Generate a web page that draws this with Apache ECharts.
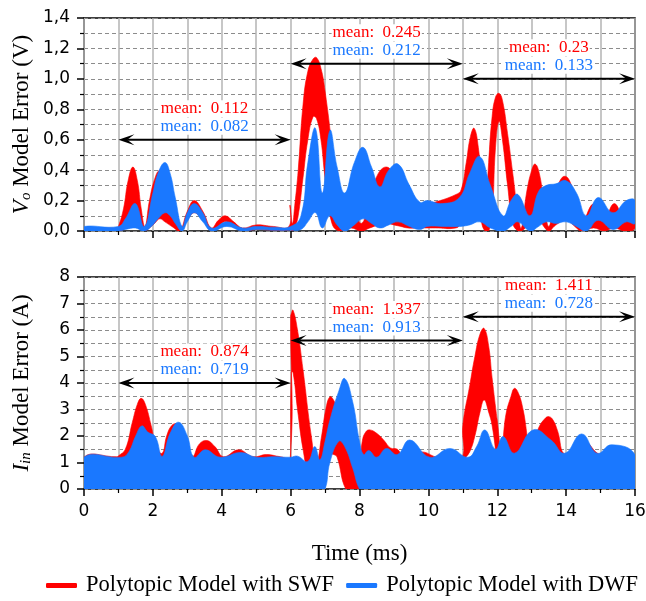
<!DOCTYPE html>
<html>
<head>
<meta charset="utf-8">
<script src="https://cdn.jsdelivr.net/npm/echarts@6/dist/echarts.min.js"></script>
<style>
  html, body { margin: 0; padding: 0; background: #fff; }
  #chart { width: 646px; height: 601px; }
</style>
</head>
<body>
<div id="chart"></div>
<script>
// Error envelopes, one row per sample: [time (ms), lower bound, upper bound]
const voSWF = [
  [0, 0, 0.02], [0.95, 0, 0.02], [1.0, 0, 0.03], [1.15, 0.01, 0.15], [1.28, 0.03, 0.33],
  [1.42, 0.05, 0.42], [1.55, 0.03, 0.33], [1.66, 0.01, 0.15], [1.77, 0, 0.03], [1.9, 0.02, 0.2],
  [2.05, 0.05, 0.34], [2.2, 0.08, 0.4], [2.35, 0.06, 0.36], [2.55, 0.03, 0.2], [2.8, 0, 0.02],
  [3.0, 0.07, 0.13], [3.2, 0.12, 0.2], [3.45, 0.07, 0.13], [3.7, 0, 0.02], [3.9, 0.03, 0.07],
  [4.1, 0.06, 0.1], [4.35, 0.03, 0.06], [4.6, 0, 0.02], [5.0, 0.01, 0.04], [5.5, 0.005, 0.03],
  [5.95, 0.005, 0.03], [5.98, 0.01, 0.17], [6.05, 0, 0.05], [6.12, 0.02, 0.17], [6.22, 0.1, 0.4],
  [6.36, 0.35, 0.83], [6.5, 0.6, 1.05], [6.65, 0.75, 1.13], [6.75, 0.74, 1.14], [6.88, 0.6, 1.07],
  [7.0, 0.35, 0.92], [7.2, 0.05, 0.55], [7.43, 0, 0.02], [7.75, 0.02, 0.2], [8.05, 0, 0.05],
  [8.3, 0.02, 0.22], [8.55, 0.04, 0.38], [8.8, 0.05, 0.42], [9.0, 0.04, 0.36], [9.2, 0.03, 0.22],
  [9.4, 0.02, 0.1], [9.7, 0.02, 0.16], [10.2, 0.02, 0.19], [10.8, 0.02, 0.24], [10.95, 0.05, 0.27],
  [11.1, 0.1, 0.45], [11.22, 0.2, 0.62], [11.33, 0.3, 0.675], [11.45, 0.2, 0.55], [11.55, 0.05, 0.3],
  [11.65, 0, 0.1], [11.75, 0, 0.45], [11.85, 0.1, 0.75], [11.95, 0.55, 0.88], [12.05, 0.72, 0.905],
  [12.15, 0.6, 0.86], [12.3, 0.3, 0.64], [12.45, 0.05, 0.38], [12.6, 0, 0.12], [12.7, 0, 0.02],
  [12.85, 0.03, 0.25], [13.0, 0.08, 0.4], [13.1, 0.1, 0.44], [13.22, 0.08, 0.38], [13.35, 0.03, 0.2],
  [13.5, 0, 0.03], [13.65, 0.03, 0.22], [13.82, 0.06, 0.33], [13.97, 0.1, 0.36], [14.12, 0.06, 0.32],
  [14.3, 0.02, 0.18], [14.45, 0, 0.05], [14.8, 0.02, 0.18], [15.1, 0, 0.08], [15.4, 0.02, 0.18],
  [15.7, 0, 0.08], [16, 0.02, 0.18]
];
const voDWF = [
  [0, 0, 0.03], [1.0, 0, 0.03], [1.2, 0.01, 0.08], [1.49, 0.02, 0.18], [1.75, 0, 0.03],
  [2.0, 0.04, 0.25], [2.15, 0.08, 0.38], [2.35, 0.12, 0.45], [2.5, 0.1, 0.38], [2.65, 0.05, 0.22],
  [2.85, 0, 0.03], [3.0, 0.06, 0.12], [3.2, 0.12, 0.18], [3.45, 0.06, 0.12], [3.7, 0, 0.02],
  [4.15, 0.03, 0.06], [4.6, 0, 0.02], [5.0, 0.01, 0.03], [5.5, 0.005, 0.025], [6.0, 0.005, 0.03],
  [6.3, 0.01, 0.1], [6.5, 0.06, 0.45], [6.72, 0.12, 0.675], [6.92, 0.02, 0.25], [7.14, 0.1, 0.66],
  [7.35, 0.04, 0.42], [7.57, 0, 0.25], [7.85, 0.04, 0.45], [8.1, 0.08, 0.55], [8.35, 0.05, 0.42],
  [8.59, 0.02, 0.29], [8.85, 0.04, 0.4], [9.12, 0.06, 0.44], [9.45, 0.03, 0.3], [9.75, 0.01, 0.19],
  [9.97, 0.03, 0.2], [10.4, 0.03, 0.18], [10.9, 0.03, 0.22], [11.2, 0.04, 0.38], [11.49, 0.06, 0.49],
  [11.8, 0.02, 0.3], [12.17, 0, 0.1], [12.4, 0.03, 0.2], [12.6, 0.06, 0.24], [12.95, 0, 0.1],
  [13.2, 0.03, 0.26], [13.43, 0.06, 0.3], [13.7, 0.05, 0.31], [14.0, 0.06, 0.33], [14.3, 0.03, 0.25],
  [14.59, 0, 0.1], [14.93, 0.07, 0.22], [15.36, 0.01, 0.12], [15.75, 0.06, 0.2], [16, 0.05, 0.2]
];
const iinSWF = [
  [0, 0, 1.2], [0.95, 0, 1.22], [1.0, 0, 1.25], [1.2, 0, 1.5], [1.4, 0, 2.5],
  [1.55, 0, 3.2], [1.66, 0, 3.42], [1.78, 0, 3.2], [1.95, 0, 2.4], [2.1, 0, 1.6],
  [2.27, 0, 1.35], [2.4, 0, 2.0], [2.55, 0, 2.4], [2.7, 0, 2.45], [2.85, 0, 2.2],
  [3.15, 0, 1.25], [3.35, 0, 1.7], [3.57, 0, 1.83], [3.8, 0, 1.6], [4.05, 0, 1.22],
  [4.49, 0, 1.48], [4.9, 0, 1.22], [5.3, 0, 1.3], [5.7, 0, 1.22], [5.99, 0, 1.2],
  [6.0, 0, 6.5], [6.015, 4.4, 6.6], [6.07, 4.4, 6.75], [6.2, 3.0, 6.0], [6.36, 1.5, 4.5],
  [6.6, 0, 2.0], [6.75, 0, 1.0], [6.9, 0.5, 2.0], [7.02, 1.0, 3.0], [7.14, 1.3, 3.48],
  [7.25, 1.3, 3.35], [7.35, 1.2, 3.0], [7.6, 0, 2.0], [7.8, 0, 1.0], [7.95, 0, 0.5],
  [8.08, 0, 1.8], [8.18, 0, 2.15], [8.3, 0, 2.23], [8.5, 0, 2.1], [8.7, 0, 1.85],
  [8.9, 0, 1.55], [9.1, 0, 1.5], [9.3, 0, 1.2], [9.8, 0, 1.4], [10.3, 0, 1.2],
  [10.6, 0, 1.4], [10.98, 0, 1.2], [11.0, 1.0, 2.4], [11.2, 1.4, 3.9], [11.35, 2.0, 5.0],
  [11.5, 2.9, 5.85], [11.62, 3.36, 6.06], [11.75, 2.9, 5.4], [11.85, 2.4, 4.2], [12.0, 1.0, 2.6],
  [12.12, 0, 1.5], [12.25, 0.6, 2.8], [12.4, 1.0, 3.5], [12.5, 1.2, 3.8], [12.62, 1.0, 3.6],
  [12.75, 0.8, 3.0], [12.98, 0, 1.5], [13.2, 0.5, 2.3], [13.38, 0.8, 2.65], [13.5, 1.0, 2.73],
  [13.62, 0.8, 2.6], [13.75, 0.6, 2.2], [13.98, 0, 1.3], [14.5, 0, 1.8], [15.0, 0, 1.3],
  [15.5, 0, 1.5], [16, 0, 1.2]
];
const iinDWF = [
  [0, 0, 1.2], [1.1, 0, 1.2], [1.3, 0, 1.4], [1.5, 0, 2.0], [1.68, 0, 2.38],
  [1.85, 0, 2.15], [2.07, 0, 1.98], [2.27, 0, 1.23], [2.5, 0, 2.1], [2.75, 0, 2.52],
  [3.0, 0, 2.0], [3.2, 0, 1.2], [3.52, 0, 1.48], [3.95, 0, 1.2], [4.55, 0, 1.38],
  [5.0, 0, 1.2], [5.5, 0, 1.22], [6.0, 0, 1.2], [6.2, 0, 1.24], [6.5, 0, 1.04],
  [6.7, 0, 1.6], [6.85, 0, 1.1], [7.0, 0, 1.8], [7.14, 1.0, 2.6], [7.4, 1.8, 3.7],
  [7.57, 1.6, 4.17], [7.8, 0.8, 3.3], [8.0, 0, 1.8], [8.12, 0, 1.3], [8.27, 0, 1.45],
  [8.5, 0, 1.2], [8.78, 0, 1.53], [9.1, 0, 1.3], [9.46, 0, 1.85], [10.04, 0, 1.2],
  [10.62, 0, 1.53], [11.15, 0, 1.2], [11.4, 0, 1.6], [11.64, 0, 2.23], [11.95, 0, 1.5],
  [12.17, 0, 1.98], [12.5, 0, 1.35], [13.04, 0, 2.23], [13.56, 0, 1.85], [13.96, 0, 1.35],
  [14.45, 0, 2.08], [14.9, 0, 1.35], [15.32, 0, 1.67], [16, 0, 1.29]
];

// Averaging windows: [start (ms), end (ms), arrow level]
const voWindows = [[1, 6, 0.6], [6, 11, 1.1], [11, 16, 1.0]];
const voMeanSWF = ['0.112', '0.245', '0.23'];
const voMeanDWF = ['0.082', '0.212', '0.133'];
const iinWindows = [[1, 6, 4], [6, 11, 5.6], [11, 16, 6.5]];
const iinMeanSWF = ['0.874', '1.337', '1.411'];
const iinMeanDWF = ['0.719', '0.913', '0.728'];

const seriesNames = ['Polytopic Model with SWF', 'Polytopic Model with DWF'];

const RED = '#ff0000';
const BLUE = '#1a78ff';
const SERIF = '"Liberation Serif", "Times New Roman", serif';
const SANS = '"DejaVu Sans", sans-serif';

// Filled band between the lower and upper envelope, drawn as one smoothed polygon
function band(name, rows, color, axisIdx, z) {
  return {
    type: 'custom',
    name: name,
    xAxisIndex: axisIdx,
    yAxisIndex: axisIdx,
    data: rows,
    clip: true,
    silent: true,
    z: z,
    itemStyle: { color: color },
    encode: { x: 0, y: [1, 2] },
    renderItem: function (params, api) {
      if (params.dataIndexInside !== 0) return null;
      const n = params.dataInsideLength;
      const upper = [], lower = [];
      for (let i = 0; i < n; i++) {
        const t = api.value(0, i);
        upper.push(api.coord([t, api.value(2, i)]));
        lower.push(api.coord([t, api.value(1, i)]));
      }
      return {
        type: 'polygon',
        shape: { points: upper.concat(lower.reverse()), smooth: 0.45 },
        style: { fill: color, stroke: color, lineWidth: 0.6 }
      };
    }
  };
}

// Double-headed arrow over each averaging window with the two mean values above it
function windows(spans, meanSWF, meanDWF, axisIdx) {
  const L = 16, W = 5.5, N = 0.55;
  return {
    type: 'custom',
    xAxisIndex: axisIdx,
    yAxisIndex: axisIdx,
    data: spans,
    silent: true,
    z: 20,
    encode: { x: [0, 1], y: 2 },
    renderItem: function (params, api) {
      const a = api.coord([api.value(0), api.value(2)]);
      const b = api.coord([api.value(1), api.value(2)]);
      const i = params.dataIndex;
      const mx = (a[0] + b[0]) / 2;
      const y = a[1];
      const label = function (txt, color, dy) {
        return {
          type: 'text',
          x: mx, y: y + dy,
          style: {
            text: txt, fill: color, font: '17px ' + SERIF,
            align: 'center', verticalAlign: 'middle',
            backgroundColor: '#fff', padding: [0, 1]
          }
        };
      };
      return {
        type: 'group',
        children: [
          { type: 'line', shape: { x1: a[0] + L * N, y1: y, x2: b[0] - L * N, y2: y },
            style: { stroke: '#000', lineWidth: 2 } },
          { type: 'polygon', shape: { points: [[a[0], y], [a[0] + L, y - W], [a[0] + L * N, y], [a[0] + L, y + W]] },
            style: { fill: '#000' } },
          { type: 'polygon', shape: { points: [[b[0], y], [b[0] - L, y - W], [b[0] - L * N, y], [b[0] - L, y + W]] },
            style: { fill: '#000' } },
          label('mean:  ' + meanSWF[i], RED, -31),
          label('mean:  ' + meanDWF[i], BLUE, -13.5)
        ]
      };
    }
  };
}

function xAxis(gridIndex, withLabels) {
  return {
    type: 'value', gridIndex: gridIndex, min: 0, max: 16, interval: 2,
    axisLine: { show: false },
    axisTick: { show: true, inside: false, length: 7, lineStyle: { color: '#000', width: 1.5 } },
    minorTick: { show: true, splitNumber: 2, length: 4, lineStyle: { color: '#000', width: 1.2 } },
    splitLine: { show: true, lineStyle: { color: '#b4b4b4', width: 1.5 } },
    minorSplitLine: { show: true, lineStyle: { color: '#b4b4b4', width: 1.5 } },
    axisLabel: { show: withLabels, margin: 14, color: '#000', fontFamily: SANS, fontSize: 17 },
    name: withLabels ? 'Time (ms)' : '',
    nameLocation: 'middle', nameGap: 53, nameMoveOverlap: false,
    nameTextStyle: { fontFamily: SERIF, fontSize: 23, color: '#000' }
  };
}

function yAxis(gridIndex, max, interval, fmt, name) {
  return {
    type: 'value', gridIndex: gridIndex, min: 0, max: max, interval: interval,
    axisLine: { show: false },
    axisTick: { show: true, inside: false, length: 7, lineStyle: { color: '#000', width: 1.5 } },
    minorTick: { show: true, splitNumber: 2, length: 4, lineStyle: { color: '#000', width: 1.2 } },
    splitLine: { show: true, lineStyle: { color: '#8c8c8c', width: 1, type: [4, 3] } },
    minorSplitLine: { show: true, lineStyle: { color: '#8c8c8c', width: 1, type: [4, 3] } },
    axisLabel: { margin: 14, color: '#000', fontFamily: SANS, fontSize: 17, formatter: fmt },
    name: name, nameLocation: 'middle', nameGap: 50, nameMoveOverlap: false,
    nameTextStyle: {
      fontFamily: SERIF, fontSize: 23, color: '#000',
      rich: {
        it: { fontFamily: SERIF, fontSize: 23, fontStyle: 'italic', color: '#000' },
        sub: { fontFamily: SERIF, fontSize: 15, fontStyle: 'italic', color: '#000', padding: [10, 0, 0, 0] }
      }
    }
  };
}

const chart = echarts.init(document.getElementById('chart'), null, { renderer: 'canvas' });
chart.setOption({
  animation: false,
  backgroundColor: '#fff',
  grid: [
    { left: 84, width: 551, top: 18, height: 213, show: true, borderColor: '#000', borderWidth: 1.5,
      backgroundColor: 'transparent', containLabel: false, outerBoundsMode: 'none' },
    { left: 84, width: 551, top: 277, height: 212, show: true, borderColor: '#000', borderWidth: 1.5,
      backgroundColor: 'transparent', containLabel: false, outerBoundsMode: 'none' }
  ],
  xAxis: [xAxis(0, false), xAxis(1, true)],
  yAxis: [
    yAxis(0, 1.4, 0.2, function (v) { return v.toFixed(1).replace('.', ','); }, '{it|V}{sub|o} Model Error (V)'),
    yAxis(1, 8, 1, function (v) { return String(v); }, '{it|I}{sub|in} Model Error (A)')
  ],
  legend: {
    data: seriesNames,
    top: 574, left: 46, width: 600, padding: 0,
    icon: 'roundRect', itemWidth: 31, itemHeight: 5, itemGap: 12,
    selectedMode: false,
    textStyle: { fontFamily: SERIF, fontSize: 22.5, color: '#000', padding: [0, 0, 0, 4] }
  },
  series: [
    band(seriesNames[0], voSWF, RED, 0, 2),
    band(seriesNames[1], voDWF, BLUE, 0, 3),
    band(seriesNames[0], iinSWF, RED, 1, 2),
    band(seriesNames[1], iinDWF, BLUE, 1, 3),
    windows(voWindows, voMeanSWF, voMeanDWF, 0),
    windows(iinWindows, iinMeanSWF, iinMeanDWF, 1)
  ]
});
</script>
</body>
</html>
